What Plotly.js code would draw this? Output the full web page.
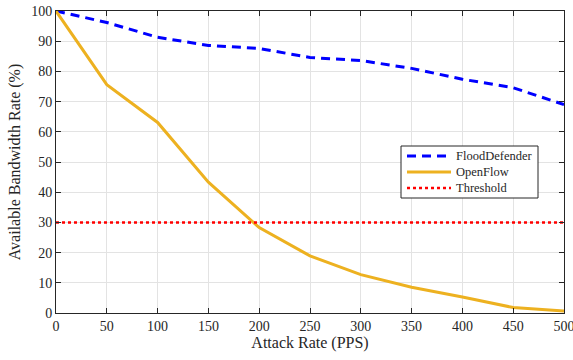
<!DOCTYPE html>
<html><head><meta charset="utf-8">
<script src="https://cdn.plot.ly/plotly-3.0.1.min.js"></script>
<style>html,body{margin:0;padding:0;background:#fff}#c{width:573px;height:360px}</style>
</head><body><div id="c"></div>
<script>
const attackRate = [0, 50, 100, 150, 200, 250, 300, 350, 400, 450, 500];
const floodDefender = [100, 96.2, 91.3, 88.6, 87.6, 84.6, 83.6, 81.0, 77.4, 74.6, 69.0];
const openFlow = [100, 75.6, 63.1, 43.3, 28.3, 18.9, 12.7, 8.5, 5.3, 1.8, 0.7];
const thresholdValue = 30;
const xTicks = [0, 50, 100, 150, 200, 250, 300, 350, 400, 450, 500];
const yTicks = [0, 10, 20, 30, 40, 50, 60, 70, 80, 90, 100];
const seriesNames = ['FloodDefender', 'OpenFlow', 'Threshold'];

const FAM = '"Times New Roman", "Liberation Serif", "DejaVu Serif", serif';
const TXT = '#262626';
const colors = ['#0000FF', '#EDB120', '#FF0000'];
const dashes = ['9px,6px', 'solid', 'dot'];
const widths = [3, 3, 2.5];

const traces = [
  {x: attackRate, y: floodDefender, name: seriesNames[0], mode: 'lines',
   line: {color: colors[0], width: widths[0], dash: dashes[0]}},
  {x: attackRate, y: openFlow, name: seriesNames[1], mode: 'lines',
   line: {color: colors[1], width: widths[1]}},
  {x: [attackRate[0], attackRate[attackRate.length-1]], y: [thresholdValue, thresholdValue],
   name: seriesNames[2], mode: 'lines', line: {color: colors[2], width: widths[2], dash: dashes[2]}}
];

const L = 56, R = 9, T = 11, B = 47, W = 573, H = 360;
const pw = W - L - R, ph = H - T - B;
const px = v => (v - L) / pw;
const py = v => (H - B - v) / ph;

const shapes = [{type: 'rect', xref: 'paper', yref: 'paper',
  x0: px(401), x1: px(538), y0: py(146), y1: py(198),
  fillcolor: '#fff', line: {color: TXT, width: 1}, layer: 'above'}];
const annotations = [];
const rowY = [156, 172, 188];
seriesNames.forEach((n, i) => {
  shapes.push({type: 'line', xref: 'paper', yref: 'paper', layer: 'above',
    x0: px(407), x1: px(451), y0: py(rowY[i]), y1: py(rowY[i]),
    line: {color: colors[i], width: widths[i], dash: dashes[i]}});
  annotations.push({xref: 'paper', yref: 'paper', x: px(454), y: py(rowY[i]),
    xanchor: 'left', yanchor: 'middle', showarrow: false, text: n,
    font: {family: FAM, size: 12.5, color: TXT}});
});

const axisCommon = {
  showline: true, linecolor: TXT, linewidth: 1, mirror: 'ticks',
  ticks: 'inside', ticklen: 5, tickcolor: TXT,
  showgrid: true, gridcolor: '#e3e3e3', gridwidth: 1, zeroline: false,
  ticklabeloverflow: 'allow',
  tickfont: {family: FAM, size: 14, color: TXT}
};
const layout = {
  width: W, height: H,
  margin: {l: L, r: R, t: T, b: B},
  paper_bgcolor: '#fff', plot_bgcolor: '#fff',
  font: {family: FAM, color: TXT},
  showlegend: false,
  shapes: shapes, annotations: annotations,
  xaxis: Object.assign({}, axisCommon, {range: [0, 500], tickvals: xTicks,
    title: {text: 'Attack Rate (PPS)', font: {family: FAM, size: 16, color: TXT}, standoff: 4}}),
  yaxis: Object.assign({}, axisCommon, {range: [0, 100], tickvals: yTicks,
    title: {text: 'Available Bandwidth Rate (%)', font: {family: FAM, size: 16, color: TXT}, standoff: 6}})
};
Plotly.newPlot('c', traces, layout, {staticPlot: true});
</script></body></html>
